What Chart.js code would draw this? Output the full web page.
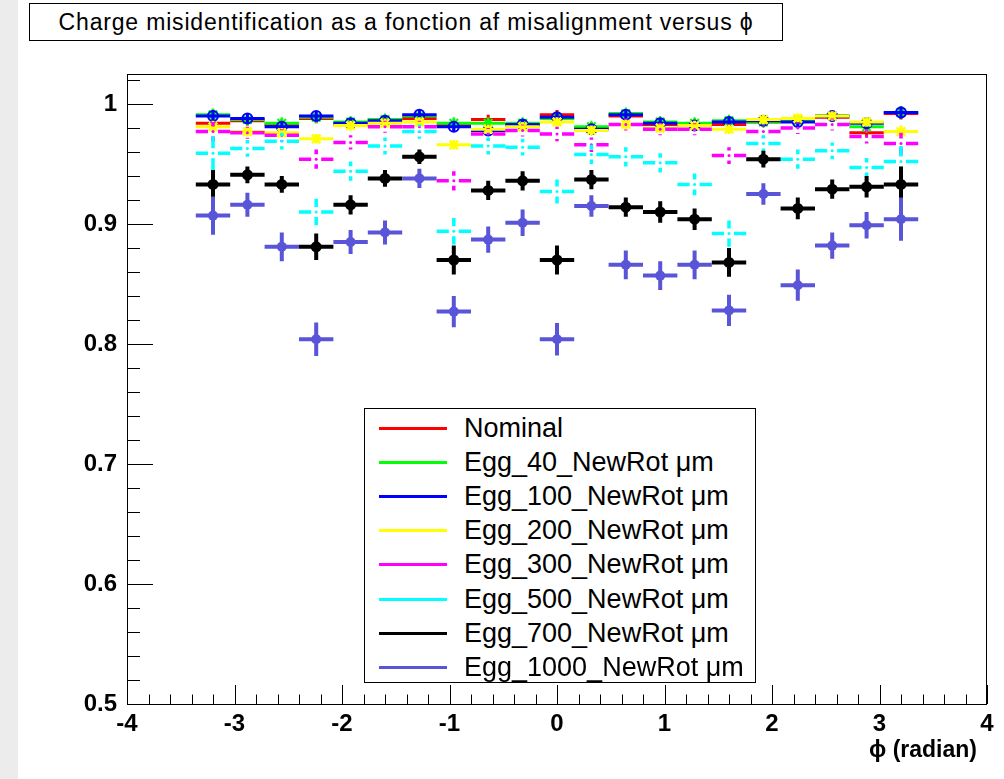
<!DOCTYPE html>
<html>
<head>
<meta charset="utf-8">
<script src="https://cdn.jsdelivr.net/npm/chart.js"></script>
<style>
  body { margin: 0; background: #fff; }
  #wrap { position: relative; width: 1004px; height: 779px; overflow: hidden; background: #fff; }
  #strip { position: absolute; left: 0; top: 0; width: 18px; height: 779px; background: #ececec; }
  canvas { position: absolute; left: 0; top: 0; }
  #title { position: absolute; left: 29px; top: 3px; width: 752px; height: 36px; border: 1px solid #000;
           background: #fff; font: 23px "Liberation Sans", Arial, sans-serif; line-height: 36px;
           text-align: center; white-space: nowrap; }
  #legend { position: absolute; left: 364px; top: 408px; width: 390px; height: 273px; border: 1px solid #000;
            background: #fff; font: 27px "Liberation Sans", Arial, sans-serif; }
  .row { position: absolute; left: 0; width: 390px; height: 34px; }
  .swatch { position: absolute; left: 14px; top: 16px; width: 68px; height: 3px; }
  .label { position: absolute; left: 99px; top: 0; line-height: 34px; white-space: nowrap; }
  #xtitle { position: absolute; right: 27px; top: 736px; font: bold 23px "Liberation Sans", Arial, sans-serif; }
</style>
</head>
<body>
<div id="wrap">
  <div id="strip"></div>
  <canvas id="chart" width="1004" height="779"></canvas>
  <div id="title"><span id="titleText">Charge misidentification as a fonction af misalignment versus ϕ</span></div>
  <div id="legend"></div>
  <div id="xtitle">ϕ (radian)</div>
</div>
<script>
// bin centres in phi
const phi = [-3.2, -2.88, -2.56, -2.24, -1.92, -1.6, -1.28, -0.96, -0.64, -0.32, 0,
             0.32, 0.64, 0.96, 1.28, 1.6, 1.92, 2.24, 2.56, 2.88, 3.2];
const binHalfWidth = 0.16;

const seriesNames = ["Nominal", "Egg_40_NewRot μm", "Egg_100_NewRot μm", "Egg_200_NewRot μm",
                     "Egg_300_NewRot μm", "Egg_500_NewRot μm", "Egg_700_NewRot μm", "Egg_1000_NewRot μm"];

const nominal = [0.984, 0.986, 0.983, 0.988, 0.983, 0.987, 0.988, 0.982, 0.987, 0.982, 0.991,
                 0.980, 0.990, 0.983, 0.982, 0.983, 0.985, 0.986, 0.989, 0.976, 0.992];
const egg40   = [0.991, 0.987, 0.984, 0.989, 0.985, 0.987, 0.990, 0.984, 0.984, 0.984, 0.988,
                 0.981, 0.992, 0.985, 0.984, 0.986, 0.985, 0.986, 0.990, 0.981, 0.993];
const egg100  = [0.990, 0.988, 0.981, 0.990, 0.984, 0.986, 0.991, 0.981, 0.978, 0.983, 0.989,
                 0.979, 0.991, 0.984, 0.982, 0.985, 0.986, 0.985, 0.990, 0.984, 0.993];
const egg200  = [0.981, 0.977, 0.976, 0.971, 0.982, 0.984, 0.985, 0.966, 0.979, 0.981, 0.985,
                 0.978, 0.983, 0.980, 0.982, 0.979, 0.987, 0.988, 0.990, 0.985, 0.977];
const egg300  = [0.977, 0.976, 0.974, 0.954, 0.968, 0.981, 0.981, 0.936, 0.975, 0.978, 0.975,
                 0.966, 0.983, 0.979, 0.979, 0.957, 0.977, 0.980, 0.983, 0.973, 0.967];
const egg500  = [0.959, 0.963, 0.969, 0.910, 0.944, 0.965, 0.977, 0.894, 0.965, 0.964, 0.927,
                 0.958, 0.956, 0.951, 0.933, 0.892, 0.967, 0.954, 0.961, 0.947, 0.952];
const egg700  = [0.933, 0.941, 0.933, 0.881, 0.916, 0.938, 0.956, 0.870, 0.928, 0.936, 0.870,
                 0.937, 0.914, 0.910, 0.904, 0.868, 0.954, 0.913, 0.929, 0.931, 0.933];
const egg1000 = [0.907, 0.916, 0.881, 0.804, 0.885, 0.893, 0.938, 0.827, 0.887, 0.901, 0.804,
                 0.915, 0.866, 0.857, 0.866, 0.828, 0.925, 0.849, 0.882, 0.899, 0.904];

// vertical half errors
const errTop  = [0.005, 0.004, 0.004, 0.004, 0.004, 0.004, 0.004, 0.004, 0.004, 0.004, 0.004,
                 0.004, 0.004, 0.004, 0.004, 0.004, 0.004, 0.004, 0.004, 0.004, 0.005];
const err300  = [0.008, 0.005, 0.005, 0.008, 0.006, 0.005, 0.005, 0.008, 0.005, 0.005, 0.006,
                 0.006, 0.005, 0.005, 0.005, 0.007, 0.005, 0.005, 0.005, 0.006, 0.009];
const err500  = [0.014, 0.007, 0.007, 0.011, 0.008, 0.007, 0.006, 0.011, 0.007, 0.007, 0.010,
                 0.008, 0.008, 0.008, 0.009, 0.011, 0.007, 0.008, 0.007, 0.008, 0.013];
const err700  = [0.012, 0.007, 0.007, 0.011, 0.008, 0.007, 0.006, 0.012, 0.008, 0.008, 0.012,
                 0.008, 0.008, 0.009, 0.009, 0.012, 0.007, 0.009, 0.008, 0.009, 0.015];
const err1000 = [0.016, 0.010, 0.012, 0.014, 0.010, 0.010, 0.008, 0.013, 0.011, 0.011, 0.0135,
                 0.009, 0.012, 0.012, 0.012, 0.013, 0.009, 0.013, 0.011, 0.011, 0.018];

const xTickValues = [-4, -3, -2, -1, 0, 1, 2, 3, 4];
const yTickValues = [0.5, 0.6, 0.7, 0.8, 0.9, 1.0];
const yTickLabels = ["0.5", "0.6", "0.7", "0.8", "0.9", "1"];

const colors = ["#ff0000", "#00ff00", "#0000ff", "#ffff00", "#ff00ff", "#00ffff", "#000000", "#5a55d8"];
const values = [nominal, egg40, egg100, egg200, egg300, egg500, egg700, egg1000];
const errors = [errTop, errTop, errTop, errTop, err300, err500, err700, err1000];
const markers = [
  { pointStyle: "cross",    pointRadius: 3,   pointBorderWidth: 1,   fill: false },
  { pointStyle: "star",     pointRadius: 6,   pointBorderWidth: 2,   fill: false },
  { pointStyle: "circle",   pointRadius: 5,   pointBorderWidth: 2,   fill: false },
  { pointStyle: "crossRot", pointRadius: 6,   pointBorderWidth: 2.5, fill: false },
  { pointStyle: "circle",   pointRadius: 1.5, pointBorderWidth: 0,   fill: true },
  { pointStyle: "circle",   pointRadius: 1.5, pointBorderWidth: 0,   fill: true },
  { pointStyle: "circle",   pointRadius: 5.5, pointBorderWidth: 0,   fill: true },
  { pointStyle: "circle",   pointRadius: 5,   pointBorderWidth: 0,   fill: true }
];
const barWidths = [3, 3, 3, 3, 3.5, 3.5, 4, 4];
const barGaps = [0, 0, 0, 0, 5, 5, 0, 0];

const datasets = values.map((vals, s) => ({
  label: seriesNames[s],
  data: phi.map((x, i) => ({ x: x, y: vals[i], err: errors[s][i] })),
  showLine: false,
  borderColor: colors[s],
  backgroundColor: markers[s].fill ? colors[s] : "rgba(0,0,0,0)",
  pointStyle: markers[s].pointStyle,
  pointRadius: markers[s].pointRadius,
  pointBorderWidth: markers[s].pointBorderWidth,
  pointBorderColor: colors[s],
  pointBackgroundColor: markers[s].fill ? colors[s] : "rgba(0,0,0,0)",
  barWidth: barWidths[s],
  barGap: barGaps[s],
  order: values.length - 1 - s
}));

// error bars, drawn just before each dataset's markers
const errorBars = {
  id: "errorBars",
  beforeDatasetDraw(chart, args) {
    const ds = chart.data.datasets[args.index];
    const xs = chart.scales.x, ys = chart.scales.y;
    const ctx = chart.ctx;
    ctx.save();
    ctx.strokeStyle = ds.borderColor;
    ctx.lineWidth = ds.barWidth;
    ctx.lineCap = "butt";
    const g = ds.barGap;
    ds.data.forEach(p => {
      const cx = xs.getPixelForValue(p.x), cy = ys.getPixelForValue(p.y);
      const xl = xs.getPixelForValue(p.x - binHalfWidth), xr = xs.getPixelForValue(p.x + binHalfWidth);
      const yt = ys.getPixelForValue(p.y + p.err), yb = ys.getPixelForValue(p.y - p.err);
      ctx.beginPath();
      ctx.moveTo(xl, cy); ctx.lineTo(cx - g, cy);
      ctx.moveTo(cx + g, cy); ctx.lineTo(xr, cy);
      if (cy - yt > g) {
        ctx.moveTo(cx, yt); ctx.lineTo(cx, cy - g);
        ctx.moveTo(cx, cy + g); ctx.lineTo(cx, yb);
      }
      ctx.stroke();
    });
    ctx.restore();
  }
};

// ROOT style frame with inner ticks
const rootFrame = {
  id: "rootFrame",
  beforeDatasetsDraw(chart) {
    const { ctx, chartArea: a } = chart;
    const xs = chart.scales.x, ys = chart.scales.y;
    ctx.save();
    ctx.strokeStyle = "#000";
    ctx.lineWidth = 1;
    ctx.strokeRect(a.left + 0.5, a.top + 0.5, a.right - a.left - 1, a.bottom - a.top);
    ctx.beginPath();
    for (let k = 0; k <= 40; k++) {
      const v = -4 + k * 0.2;
      const px = Math.round(xs.getPixelForValue(v)) + 0.5;
      const len = k % 5 === 0 ? 19 : 9.5;
      ctx.moveTo(px, a.bottom); ctx.lineTo(px, a.bottom - len);
    }
    for (let k = 0; k <= 26; k++) {
      const v = 0.5 + k * 0.02;
      if (v > ys.max) break;
      const py = Math.round(ys.getPixelForValue(v)) + 0.5;
      const len = k % 5 === 0 ? 26 : 13;
      ctx.moveTo(a.left, py); ctx.lineTo(a.left + len, py);
    }
    ctx.stroke();
    ctx.restore();
  }
};

const tickFont = { family: "'Liberation Sans', Arial, sans-serif", size: 24, weight: "bold" };

new Chart(document.getElementById("chart"), {
  type: "scatter",
  data: { datasets: datasets },
  plugins: [errorBars, rootFrame],
  options: {
    responsive: false,
    animation: false,
    layout: { padding: { top: 74, right: 17, left: 0, bottom: 0 } },
    plugins: { legend: { display: false }, tooltip: { enabled: false } },
    scales: {
      x: {
        type: "linear",
        min: -4,
        max: 4,
        afterBuildTicks: s => { s.ticks = xTickValues.map(v => ({ value: v })); },
        afterFit: s => { s.height = 75; },
        grid: { display: false, drawTicks: false },
        border: { display: false },
        ticks: { color: "#000", font: tickFont, padding: 6, maxRotation: 0, autoSkip: false }
      },
      y: {
        type: "linear",
        min: 0.5,
        max: 1.025,
        afterBuildTicks: s => { s.ticks = yTickValues.map(v => ({ value: v })); },
        afterFit: s => { s.width = 127; },
        grid: { display: false, drawTicks: false },
        border: { display: false },
        ticks: { color: "#000", font: tickFont, padding: 10, autoSkip: false,
                 callback: (v, i) => yTickLabels[i] }
      }
    }
  }
});

// legend
const legend = document.getElementById("legend");
seriesNames.forEach((name, s) => {
  const row = document.createElement("div");
  row.className = "row";
  row.style.top = (2 + s * 34.1) + "px";
  row.innerHTML = '<div class="swatch" style="background:' + colors[s] + '"></div><div class="label">' + name + '</div>';
  legend.appendChild(row);
});

// stretch title text to the reference width
const tt = document.getElementById("titleText");
const w = tt.getBoundingClientRect().width;
tt.style.letterSpacing = ((695 - w) / tt.textContent.length).toFixed(2) + "px";
</script>
</body>
</html>
